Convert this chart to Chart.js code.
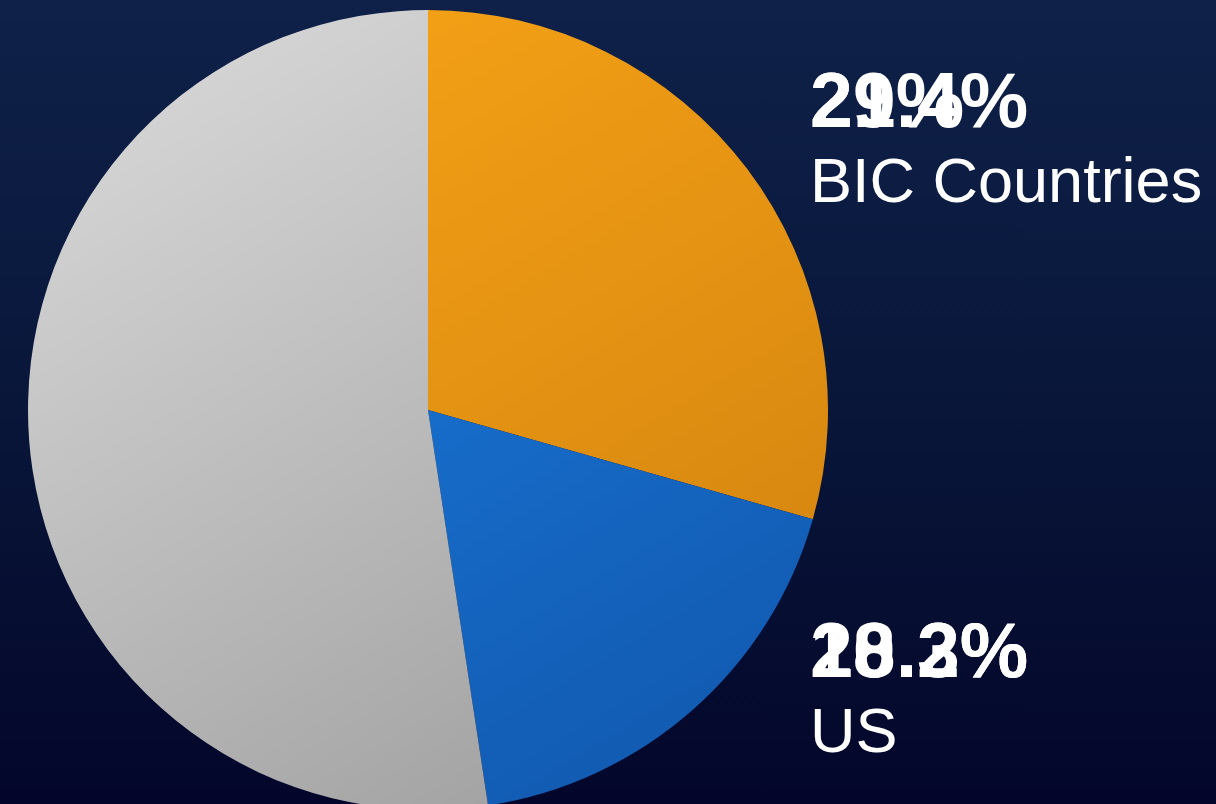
<!DOCTYPE html>
<html>
<head>
<meta charset="utf-8">
<script src="https://cdn.jsdelivr.net/npm/chart.js@4"></script>
<style>
  html, body {
    margin: 0;
    padding: 0;
    width: 1216px;
    height: 804px;
    overflow: hidden;
    background: linear-gradient(180deg, #0f2149 0%, #081538 55%, #03062a 100%);
    font-family: 'Liberation Sans', Arial, sans-serif;
    color: #fff;
  }
  #wrap {
    position: absolute;
    left: 28px;
    top: 10px;
    width: 800px;
    height: 800px;
  }
  .lbl {
    position: absolute;
    left: 810px;
    white-space: nowrap;
  }
  .pct {
    font-weight: bold;
    font-size: 77px;
    line-height: 1;
  }
  .pct span { position: absolute; left: 0; top: 0; }
  .name {
    font-size: 63px;
    line-height: 1;
  }
</style>
</head>
<body>
<div id="wrap"><canvas id="canvas" width="800" height="800"></canvas></div>
<div id="labels"></div>

<script>
// slices, clockwise from 12 o'clock
const categories = ['BIC Countries', 'US', 'Rest of World'];
const shares = [29.4, 18.2, 52.4];
// the picture shows two number frames stacked on each other
const pctShown = ['29.4%', '18.2%'];
const pctGhost = ['21%', '20.3%'];
const labelTops = [62, 612];

document.addEventListener('DOMContentLoaded', () => {
  const gradients = [
    ['#fba718', '#d4850f'],
    ['#1d84e8', '#125cb4'],
    ['#dcdcdc', '#a3a3a3'],
  ];

  const fill = (context) => {
    const i = context.dataIndex;
    const chart = context.chart;
    const area = chart.chartArea;
    if (!area || i === undefined) return gradients[0][0];
    const g = chart.ctx.createLinearGradient(area.left, area.top, area.left + area.width * 0.6, area.bottom);
    g.addColorStop(0, gradients[i][0]);
    g.addColorStop(1, gradients[i][1]);
    return g;
  };

  let config = {
    type: 'pie',
    data: {
      labels: categories,
      datasets: [
        {
          data: shares,
          backgroundColor: fill,
          borderWidth: 0,
        },
      ],
    },
    options: {
      responsive: false,
      animation: false,
      layout: { padding: 0 },
      plugins: {
        legend: { display: false },
        tooltip: { enabled: false },
      },
    },
  };

  const ctx = document.getElementById('canvas').getContext('2d');
  window.myPie = new Chart(ctx, config);

  const labels = document.getElementById('labels');
  pctShown.forEach((p, i) => {
    labels.innerHTML += `<div class="lbl" style="top:${labelTops[i]}px">
      <div class="pct" style="position:relative;height:77px"><span>${pctGhost[i]}</span><span>${p}</span></div>
      <div class="name" style="margin-top:10px">${categories[i]}</div>
    </div>`;
  });
});
</script>
</body>
</html>
